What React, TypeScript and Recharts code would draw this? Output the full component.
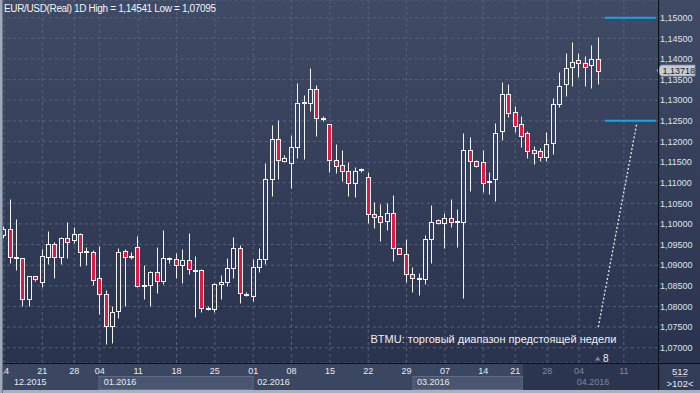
import React from "react";
import { ComposedChart, Bar, XAxis, YAxis, CartesianGrid, ReferenceLine } from "recharts";

if (typeof document !== "undefined") document.body.style.margin = "0";

// daily EUR/USD candles, 14.12.2015 .. 08.04.2016
const opens = [
  1.0973, 1.0987, 1.0917, 1.0917, 1.0817, 1.0874, 1.086, 1.0921, 1.0951, 1.0921,
  1.0965, 1.0961, 1.0976, 1.0932, 1.0931, 1.0868, 1.0829, 1.0753, 1.0789, 1.0935,
  1.092, 1.0945, 1.0851, 1.0852, 1.0883, 1.0862, 1.0916, 1.0914, 1.09, 1.0912,
  1.0887, 1.0888, 1.0797, 1.0793, 1.0854, 1.0859, 1.0892, 1.0941, 1.0829, 1.0826,
  1.0895, 1.0914, 1.1108, 1.1205, 1.1153, 1.1147, 1.1187, 1.1293, 1.1294, 1.1326,
  1.1255, 1.1242, 1.1155, 1.1142, 1.1129, 1.1099, 1.113, 1.1115, 1.1023, 1.1019,
  1.1008, 1.1026, 1.0941, 1.0927, 1.0878, 1.0866, 1.0866, 1.0963, 1.101, 1.1002,
  1.1015, 1.1006, 1.1004, 1.1179, 1.1153, 1.1149, 1.1103, 1.1108, 1.1226, 1.1314,
  1.1271, 1.1242, 1.122, 1.1179, 1.1178, 1.1162, 1.1196, 1.129, 1.1339, 1.138,
  1.1397, 1.1389, 1.1385, 1.1399,
];
const highs = [
  1.0995, 1.106, 1.1011, 1.0918, 1.0875, 1.0875, 1.0939, 1.0983, 1.0957, 1.0969,
  1.1004, 1.0993, 1.0977, 1.0945, 1.0937, 1.0947, 1.084, 1.0801, 1.0941, 1.094,
  1.0931, 1.0971, 1.09, 1.0886, 1.0943, 1.0985, 1.0921, 1.093, 1.0939, 1.0977,
  1.0922, 1.089, 1.08, 1.0856, 1.0876, 1.0917, 1.0968, 1.0949, 1.0835, 1.0914,
  1.0941, 1.1147, 1.124, 1.1252, 1.1167, 1.1215, 1.1341, 1.1313, 1.1378, 1.1337,
  1.1262, 1.1243, 1.1194, 1.1179, 1.1149, 1.1139, 1.1135, 1.1125, 1.1052, 1.1048,
  1.105, 1.107, 1.0942, 1.0964, 1.0895, 1.088, 1.0973, 1.1046, 1.1011, 1.1026,
  1.106, 1.1036, 1.1221, 1.121, 1.1155, 1.1179, 1.1125, 1.1244, 1.1343, 1.1339,
  1.1286, 1.1262, 1.1226, 1.1189, 1.1183, 1.1222, 1.1305, 1.1368, 1.1414, 1.144,
  1.1414, 1.1407, 1.1434, 1.14541,
];
const lows = [
  1.0965, 1.0905, 1.0888, 1.0802, 1.0802, 1.0862, 1.0848, 1.0903, 1.087, 1.0903,
  1.0918, 1.0955, 1.0898, 1.09, 1.0852, 1.0782, 1.07095, 1.0712, 1.0771, 1.0801,
  1.0914, 1.0848, 1.0818, 1.0802, 1.0833, 1.0854, 1.0906, 1.0868, 1.0858, 1.0878,
  1.0775, 1.0787, 1.0792, 1.0787, 1.0818, 1.085, 1.0868, 1.0809, 1.0826, 1.0814,
  1.0884, 1.0903, 1.1068, 1.1108, 1.1151, 1.1086, 1.1161, 1.1157, 1.1275, 1.1214,
  1.125, 1.1127, 1.1124, 1.1105, 1.1068, 1.1066, 1.1127, 1.1003, 1.0989, 1.0959,
  1.0985, 1.091, 1.0926, 1.0859, 1.0834, 1.0828, 1.0854, 1.0905, 1.1001, 1.0941,
  1.0993, 1.0945, 1.0821, 1.1081, 1.1138, 1.1078, 1.1072, 1.1056, 1.1204, 1.1259,
  1.1224, 1.1187, 1.1159, 1.1145, 1.1153, 1.1153, 1.117, 1.1284, 1.1311, 1.1335,
  1.1357, 1.1335, 1.1329, 1.1339,
];
const closes = [
  1.0987, 1.0919, 1.0919, 1.0817, 1.0874, 1.0866, 1.0922, 1.0951, 1.0921, 1.0965,
  1.0957, 1.0976, 1.0933, 1.0934, 1.0864, 1.083, 1.0753, 1.0786, 1.0933, 1.0919,
  1.0922, 1.085, 1.0853, 1.0883, 1.0862, 1.0917, 1.0918, 1.09, 1.0912, 1.089,
  1.0889, 1.0796, 1.0795, 1.0854, 1.0859, 1.0892, 1.0941, 1.0832, 1.0831, 1.0895,
  1.0914, 1.1109, 1.1205, 1.1155, 1.1159, 1.1187, 1.1294, 1.1295, 1.1326, 1.1256,
  1.1257, 1.1155, 1.1141, 1.1129, 1.1099, 1.1129, 1.1132, 1.1023, 1.1018, 1.1005,
  1.1026, 1.0941, 1.0927, 1.0878, 1.0868, 1.0868, 1.0963, 1.1004, 1.1002, 1.1015,
  1.1005, 1.1008, 1.1179, 1.1153, 1.1141, 1.1099, 1.1105, 1.122, 1.1314, 1.1268,
  1.1238, 1.1214, 1.1178, 1.1171, 1.1163, 1.1193, 1.1291, 1.1334, 1.1377, 1.1392,
  1.1389, 1.138, 1.1399, 1.13718,
];
const slotCount = 103; // visible slots incl. empty space on the right

const dayTickIdx = [0, 6, 11, 15, 21, 27, 33, 39, 45, 51, 57, 63, 69, 75, 80, 85, 90, 97];
const dayTickLabels = ["14", "21", "28", "04", "11", "18", "25", "01", "08", "15", "22", "29", "07", "14", "21", "28", "04", "11"];
const monthTickIdx = [0, 15, 39, 64, 89];
const monthLabels = ["12.2015", "01.2016", "02.2016", "03.2016", "04.2016"];
const priceTicks = [1.07, 1.075, 1.08, 1.085, 1.09, 1.095, 1.1, 1.105, 1.11, 1.115, 1.12, 1.125, 1.13, 1.135, 1.14, 1.145, 1.15];

const lastPrice = 1.13718;
const rangeTop = 1.15;
const rangeBottom = 1.125;
const pointerFrom = { i: 93, price: 1.075 };
const pointerTo = { i: 99, price: 1.1242 };
const todayLabel = "8";
const futureFrom = 81;

const data = Array.from({ length: slotCount }, (_, i) =>
  i < opens.length
    ? { i, open: opens[i], high: highs[i], low: lows[i], close: closes[i], range: [lows[i], highs[i]] }
    : { i }
);

const FONT = "'Liberation Sans', Arial, sans-serif";
const RED = "#e3173f";
const WHITE = "#f3f4f6";

function Candle(props: any) {
  const { x, y, width, height, payload } = props;
  if (!payload || payload.open == null || height == null) return null;
  const { open, close, high, low } = payload;
  const top = Math.min(y, y + height);
  const k = Math.abs(height) / (high - low);
  const py = (v: number) => top + (high - v) * k;
  const cx = Math.round(x + width / 2) - 0.5;
  const yH = Math.round(py(high)) + 0.5;
  const yL = Math.round(py(low)) + 0.5;
  const bTop = Math.round(py(Math.max(open, close))) + 0.5;
  let bBot = Math.round(py(Math.min(open, close))) + 0.5;
  if (bBot - bTop < 1) bBot = bTop + 1;
  const down = close < open;
  return (
    <g>
      {yH < bTop && <line x1={cx} x2={cx} y1={yH} y2={bTop} stroke={WHITE} strokeWidth={1} />}
      {yL > bBot && <line x1={cx} x2={cx} y1={bBot} y2={yL} stroke={WHITE} strokeWidth={1} />}
      <rect x={cx - 2} y={bTop} width={4} height={bBot - bTop} fill={down ? RED : "none"} stroke={WHITE} strokeWidth={1} />
    </g>
  );
}

function DayTick(props: any) {
  const { x, y, payload } = props;
  const k = dayTickIdx.indexOf(payload.value);
  if (k < 0) return null;
  return (
    <text x={x} y={y} dy="0.71em" textAnchor="middle" fontSize={9} fontFamily={FONT} fill={payload.value >= futureFrom ? "#7f889c" : "#e8ebf0"}>
      {dayTickLabels[k]}
    </text>
  );
}

function MonthTick(props: any) {
  const { x, y, payload } = props;
  const k = monthTickIdx.indexOf(payload.value);
  if (k < 0) return null;
  return (
    <text x={x + (payload.value === 0 ? 10 : 4)} y={y} dy="0.71em" textAnchor="start" fontSize={9} fontFamily={FONT} fill={payload.value >= futureFrom ? "#7f889c" : "#e8ebf0"}>
      {monthLabels[k]}
    </text>
  );
}

function PriceTag(props: any) {
  const vb = props.viewBox || {};
  const r = vb.x + vb.width;
  const yc = vb.y;
  return (
    <g>
      <polygon
        points={`${r - 2},${yc} ${r + 2},${yc - 5.5} ${r + 36},${yc - 5.5} ${r + 36},${yc + 5.5} ${r + 2},${yc + 5.5}`}
        fill="#c6cbd4"
        stroke="#8a93a4"
        strokeWidth={0.8}
      />
      <text x={r + 3.5} y={yc + 3.3} fontSize={9} fontFamily={FONT} fill="#1b2130">
        {fmt(lastPrice)}
      </text>
    </g>
  );
}

const fmt = (v: number) => v.toFixed(5).replace(".", ",");

export default function App() {
  return (
    <div style={{ position: "relative", width: 700, height: 393, overflow: "hidden", background: "#3a4560" }}>
      <svg width={700} height={393} style={{ position: "absolute", left: 0, top: 0 }}>
        <defs>
          <linearGradient id="bg" x1="0" y1="0" x2="0" y2="1">
            <stop offset="0" stopColor="#3f4a65" />
            <stop offset="0.5" stopColor="#343e59" />
            <stop offset="1" stopColor="#2a334d" />
          </linearGradient>
        </defs>
        <rect x={0} y={0} width={700} height={363} fill="url(#bg)" />
        <rect x={0} y={363} width={700} height={27} fill="#3b4660" />
        <rect x={99} y={376.5} width={154} height={13} fill="#4a5570" stroke="#5f6a85" />
        <rect x={413} y={376.5} width={110} height={13} fill="#4a5570" stroke="#5f6a85" />
        <rect x={523} y={363} width={136} height={27} fill="#2c354f" />
        <rect x={659} y={363} width={41} height={27} fill="#323c56" />
      </svg>
      <div style={{ position: "absolute", left: 0, top: 0 }}>
        <ComposedChart width={700} height={393} data={data} margin={{ top: 0, right: 0, left: 0.8, bottom: 0 }}>
          <CartesianGrid stroke="#56617c" strokeDasharray="3 3" />
          <XAxis
            dataKey="i"
            type="category"
            ticks={dayTickIdx}
            interval={0}
            height={13}
            tickSize={0}
            tickMargin={5}
            axisLine={false}
            tickLine={false}
            tick={<DayTick />}
          />
          <XAxis
            xAxisId="m"
            dataKey="i"
            type="category"
            ticks={monthTickIdx}
            interval={0}
            height={17}
            tickSize={0}
            tickMargin={3}
            axisLine={false}
            tickLine={false}
            tick={<MonthTick />}
          />
          <YAxis
            orientation="right"
            type="number"
            domain={[1.06629, 1.15429]}
            allowDataOverflow
            ticks={priceTicks}
            interval={0}
            width={41}
            axisLine={false}
            tickLine={false}
            tickSize={0}
            tickMargin={1}
            tickFormatter={fmt}
            tick={{ fill: "#dfe3ea", fontSize: 9, fontFamily: FONT }}
          />
          <Bar dataKey="range" barSize={5} shape={<Candle />} isAnimationActive={false} />
          <ReferenceLine segment={[{ x: 94, y: rangeTop }, { x: 102, y: rangeTop }]} stroke="#1ba2e6" strokeWidth={2} />
          <ReferenceLine segment={[{ x: 94, y: rangeBottom }, { x: 102, y: rangeBottom }]} stroke="#1ba2e6" strokeWidth={2} />
          <ReferenceLine
            segment={[{ x: pointerFrom.i, y: pointerFrom.price }, { x: pointerTo.i, y: pointerTo.price }]}
            stroke="#e6e9ef"
            strokeWidth={1.3}
            strokeDasharray="2 2"
          />
          <ReferenceLine y={lastPrice} stroke="none" label={<PriceTag />} />
        </ComposedChart>
      </div>
      <svg width={700} height={393} style={{ position: "absolute", left: 0, top: 0, pointerEvents: "none" }}>
        <rect x={0} y={363} width={700} height={1} fill="#0c1019" />
        <rect x={658} y={0} width={1.2} height={390} fill="#0c1019" />
        <rect x={0} y={390} width={700} height={3} fill="#a9b1bf" />
        <rect x={0} y={0} width={2} height={393} fill="#a0a9b8" />
        <rect x={2} y={0} width={1} height={393} fill="#6b7589" />
        <text x={4} y={12} fontSize={10} letterSpacing={-0.35} fontFamily={FONT} fill="#f2f4f7">
          EUR/USD(Real) 1D High = 1,14541 Low = 1,07095
        </text>
        <text x={370.5} y={343} fontSize={11} fontFamily={FONT} fill="#eef0f4">
          BTMU: торговый диапазон предстоящей недели
        </text>
        <polygon points="595,360.5 600.5,360.5 597.7,356.5" fill="#7f889c" />
        <text x={603} y={362} fontSize={10} fontFamily={FONT} fill="#e8ebf0">
          {todayLabel}
        </text>
        <text x={680} y={374.5} fontSize={9.5} textAnchor="middle" fontFamily={FONT} fill="#e8ebf0">512</text>
        <rect x={674} y={376} width={13} height={0.8} fill="#7f889c" />
        <text x={680} y={386.5} fontSize={9.5} textAnchor="middle" fontFamily={FONT} fill="#e8ebf0">&gt;102&lt;</text>
      </svg>
    </div>
  );
}
